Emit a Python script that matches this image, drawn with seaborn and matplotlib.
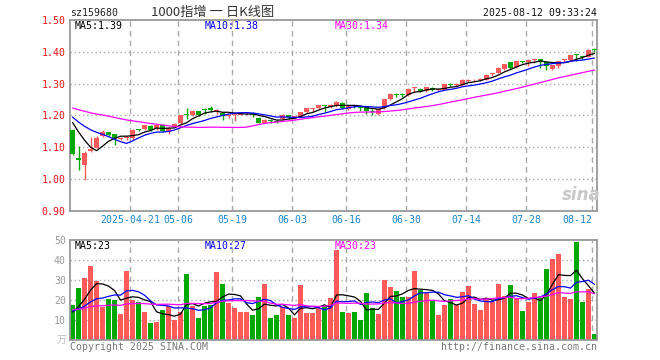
import numpy as np
import pandas as pd
import matplotlib
matplotlib.use('Agg')
import matplotlib.pyplot as plt
import seaborn as sns

# ---------------- data ----------------
opens = [1.154, 1.066, 1.043, 1.087, 1.099, 1.135, 1.147, 1.141, 1.127, 1.128,
         1.130, 1.156, 1.158, 1.168, 1.157, 1.170, 1.148, 1.168, 1.176, 1.205,
         1.202, 1.213, 1.220, 1.222, 1.213, 1.208, 1.198, 1.201, 1.203, 1.207,
         1.205, 1.193, 1.178, 1.184, 1.184, 1.188, 1.202, 1.193, 1.196, 1.211,
         1.221, 1.222, 1.232, 1.226, 1.229, 1.240, 1.220, 1.231, 1.226, 1.228,
         1.214, 1.205, 1.222, 1.253, 1.265, 1.265, 1.265, 1.286, 1.283, 1.276,
         1.287, 1.279, 1.281, 1.299, 1.296, 1.297, 1.309, 1.310, 1.312, 1.313,
         1.330, 1.335, 1.347, 1.367, 1.351, 1.370, 1.368, 1.373, 1.376, 1.369,
         1.345, 1.355, 1.375, 1.375, 1.393, 1.386, 1.385, 1.410]
highs = [1.156, 1.103, 1.087, 1.133, 1.137, 1.155, 1.148, 1.142, 1.133, 1.135,
         1.158, 1.158, 1.171, 1.171, 1.172, 1.172, 1.163, 1.176, 1.202, 1.223,
         1.218, 1.215, 1.222, 1.229, 1.219, 1.210, 1.205, 1.207, 1.212, 1.212,
         1.210, 1.195, 1.188, 1.188, 1.186, 1.204, 1.203, 1.199, 1.212, 1.224,
         1.224, 1.234, 1.234, 1.236, 1.244, 1.241, 1.234, 1.233, 1.231, 1.230,
         1.219, 1.221, 1.253, 1.272, 1.270, 1.270, 1.286, 1.289, 1.285, 1.289,
         1.289, 1.284, 1.299, 1.301, 1.301, 1.314, 1.314, 1.315, 1.317, 1.330,
         1.333, 1.352, 1.363, 1.368, 1.372, 1.372, 1.376, 1.376, 1.377, 1.370,
         1.360, 1.372, 1.378, 1.391, 1.394, 1.388, 1.409, 1.411]
lows = [1.077, 1.030, 0.996, 1.085, 1.097, 1.132, 1.135, 1.108, 1.122, 1.123,
        1.124, 1.150, 1.156, 1.151, 1.155, 1.148, 1.143, 1.165, 1.174, 1.190,
        1.199, 1.198, 1.205, 1.212, 1.204, 1.185, 1.192, 1.182, 1.200, 1.203,
        1.196, 1.175, 1.175, 1.176, 1.175, 1.185, 1.190, 1.188, 1.194, 1.208,
        1.212, 1.220, 1.211, 1.222, 1.226, 1.219, 1.217, 1.222, 1.214, 1.206,
        1.203, 1.200, 1.219, 1.250, 1.258, 1.257, 1.262, 1.273, 1.275, 1.274,
        1.277, 1.277, 1.279, 1.294, 1.292, 1.294, 1.306, 1.306, 1.308, 1.311,
        1.323, 1.332, 1.344, 1.346, 1.348, 1.364, 1.356, 1.364, 1.350, 1.343,
        1.342, 1.348, 1.367, 1.372, 1.371, 1.378, 1.383, 1.399]
closes = [1.079, 1.061, 1.083, 1.095, 1.130, 1.148, 1.139, 1.128, 1.130, 1.130,
          1.156, 1.155, 1.169, 1.153, 1.170, 1.150, 1.160, 1.172, 1.200, 1.203,
          1.215, 1.202, 1.218, 1.218, 1.215, 1.198, 1.201, 1.205, 1.210, 1.209,
          1.201, 1.178, 1.186, 1.182, 1.181, 1.202, 1.194, 1.197, 1.211, 1.222,
          1.223, 1.232, 1.229, 1.233, 1.242, 1.223, 1.232, 1.229, 1.224, 1.214,
          1.212, 1.219, 1.252, 1.269, 1.263, 1.263, 1.284, 1.288, 1.278, 1.288,
          1.280, 1.281, 1.298, 1.297, 1.298, 1.312, 1.311, 1.312, 1.314, 1.328,
          1.332, 1.350, 1.361, 1.350, 1.370, 1.368, 1.374, 1.375, 1.369, 1.355,
          1.358, 1.370, 1.377, 1.389, 1.390, 1.384, 1.406, 1.407]
volumes = [17.5, 26, 31, 37, 29.5, 16.7, 20.5, 20, 13, 34.5,
           20, 19, 14, 8.5, 9, 15, 17, 10, 14, 33,
           17, 11, 17, 17.5, 34, 28, 18.3, 16, 14, 14,
           12.3, 21.5, 28, 11, 12.3, 16.3, 12.3, 11, 27.5, 13.7,
           13.7, 16, 17, 21, 45, 14, 13.5, 14, 10, 23.5,
           16, 13, 30, 26.5, 24.5, 21.5, 21.5, 34.5, 25, 23.5,
           19.5, 12.5, 17.5, 20.5, 17.5, 24, 27, 18, 15, 20.5,
           19, 28, 22, 27.5, 20.5, 14.5, 19, 23.5, 21, 35.5,
           40.5, 43, 21.5, 20.5, 49, 19, 25.5, 3]
# sessions before the window, needed for the moving averages at the left edge
prior_closes = [1.225, 1.232, 1.240, 1.245, 1.238, 1.250, 1.255, 1.248, 1.242, 1.236,
                1.245, 1.250, 1.240, 1.232, 1.228, 1.235, 1.240, 1.232, 1.229, 1.220,
                1.218, 1.215, 1.205, 1.210, 1.212, 1.210, 1.212, 1.205, 1.185]
prior_volumes = [15, 16, 14, 17, 15, 13, 16, 18, 15, 14,
                 16, 17, 15, 14, 13, 16, 15, 17, 14, 16,
                 15, 17, 16, 14, 13, 12, 13, 14, 13]
holidays = ['2025-05-01', '2025-05-02', '2025-05-05', '2025-06-02']
tick_dates = ['2025-04-21', '2025-05-06', '2025-05-19', '2025-06-03', '2025-06-16',
              '2025-06-30', '2025-07-14', '2025-07-28', '2025-08-12']
tick_labels = ['2025-04-21', '05-06', '05-19', '06-03', '06-16',
               '06-30', '07-14', '07-28', '08-12']
price_ticks = [0.90, 1.00, 1.10, 1.20, 1.30, 1.40, 1.50]
vol_ticks = [10, 20, 30, 40, 50]

# ---------------- style ----------------
sns.set_theme(style='white')
plt.rcParams['font.family'] = ['DejaVu Sans Mono', 'Noto Sans CJK SC']

RED = '#ff5a5a'
GREEN = '#00a800'
GRID = '#aaaaaa'
FRAME = '#999999'
MONO = 7.1

dates = pd.bdate_range('2025-04-07', '2025-08-12', freq='C', holidays=holidays)
n = len(closes)
idx = np.arange(n)
df = pd.DataFrame({'pos': idx, 'open': opens, 'high': highs, 'low': lows,
                   'close': closes, 'vol': volumes}, index=dates[:n])
df['dir'] = np.where(df['close'] >= df['open'], 'up', 'down')
colors = np.where(df['dir'] == 'up', RED, GREEN)

np_ = len(prior_closes)
allc = pd.Series(prior_closes + closes)
allv = pd.Series(prior_volumes + volumes)
for w in (5, 10, 30):
    df[f'ma{w}'] = allc.rolling(w).mean().iloc[np_:].values
    df[f'vma{w}'] = allv.rolling(w).mean().iloc[np_:].values

tick_pos = [int(df.index.get_loc(pd.Timestamp(d))) for d in tick_dates]

W, H = 660, 360
fig = plt.figure(figsize=(6.6, 3.6), dpi=100)


def fx(x):
    return x / W


def fy(y):
    return 1 - y / H


# ---------------- price panel ----------------
ax = fig.add_axes([fx(70), fy(211), 527 / W, 191 / H])
xl = (-0.42, n - 1 + 0.42)

for y in price_ticks[1:-1]:
    ax.axhline(y, color=GRID, lw=1, ls=(0, (1, 2)), zorder=0)
for p in tick_pos:
    ax.axvline(p - 0.42, color=GRID, lw=1, ls=(0, (4, 3)), zorder=0)

body_lo = np.minimum(df['open'], df['close'])
body_h = np.maximum(np.abs(df['close'] - df['open']), 0.003)
ax.vlines(df['pos'], df['low'], df['high'], colors=colors, lw=1, zorder=2)
ax.bar(df['pos'], body_h, bottom=body_lo, width=0.8, color=colors, linewidth=0, zorder=3)

sns.lineplot(x=df['pos'], y=df['ma5'], ax=ax, color='black', lw=0.9, zorder=4)
sns.lineplot(x=df['pos'], y=df['ma10'], ax=ax, color='#0000ff', lw=0.9, zorder=4)
sns.lineplot(x=df['pos'], y=df['ma30'], ax=ax, color='#ff00ff', lw=0.9, zorder=4)

ax.set_xlim(*xl)
ax.set_ylim(0.90, 1.50)
ax.set_xlabel('')
ax.set_ylabel('')
ax.set_yticks(price_ticks)
ax.set_yticklabels([f'{v:.2f}' for v in price_ticks], color='#ee1111', fontsize=MONO)
ax.set_xticks([p - 0.42 for p in tick_pos])
ax.set_xticklabels(tick_labels, color='#1a86d0', fontsize=MONO)
ax.get_xticklabels()[-1].set_ha('right')
ax.tick_params(axis='both', length=0, pad=3)
for s in ax.spines.values():
    s.set_color(FRAME)
    s.set_linewidth(1.3)

# ---------------- volume panel ----------------
axv = fig.add_axes([fx(70), fy(340), 527 / W, 100 / H])
for y in vol_ticks[:-1]:
    axv.axhline(y, color=GRID, lw=1, ls=(0, (1, 2)), zorder=0)
for p in tick_pos:
    axv.axvline(p - 0.42, color=GRID, lw=1, ls=(0, (4, 3)), zorder=0)

sns.barplot(data=df, x='pos', y='vol', hue='dir', palette={'up': RED, 'down': GREEN},
            native_scale=True, dodge=False, width=0.83, legend=False, errorbar=None,
            saturation=1, linewidth=0, ax=axv, zorder=2)
sns.lineplot(x=df['pos'], y=df['vma5'], ax=axv, color='black', lw=0.9, zorder=4)
sns.lineplot(x=df['pos'], y=df['vma10'], ax=axv, color='#0000ff', lw=0.9, zorder=4)
sns.lineplot(x=df['pos'], y=df['vma30'], ax=axv, color='#ff00ff', lw=0.9, zorder=4)

axv.set_xlim(*xl)
axv.set_ylim(0, 50)
axv.set_xlabel('')
axv.set_ylabel('')
axv.set_xticks([])
axv.set_yticks(vol_ticks)
axv.set_yticklabels([str(v) for v in vol_ticks], color='#999999', fontsize=MONO)
axv.tick_params(axis='both', length=0, pad=3)
for s in axv.spines.values():
    s.set_color(FRAME)
    s.set_linewidth(1.3)

# ---------------- texts ----------------
fig.text(fx(70), fy(13), 'sz159680', ha='left', va='center', fontsize=MONO, color='#222222')
fig.text(fx(213), fy(12), '1000指增 一 日K线图', ha='center', va='center', fontsize=9.5,
         color='#333333', family=['Noto Sans CJK SC', 'DejaVu Sans'])
fig.text(fx(597), fy(13), '2025-08-12 09:33:24', ha='right', va='center', fontsize=MONO,
         color='#111111')

fig.text(fx(75), fy(26), 'MA5:1.39', ha='left', va='center', fontsize=MONO, color='black')
fig.text(fx(205), fy(26), 'MA10:1.38', ha='left', va='center', fontsize=MONO, color='#0000ff')
fig.text(fx(335), fy(26), 'MA30:1.34', ha='left', va='center', fontsize=MONO, color='#ff00ff')

fig.text(fx(75), fy(246), 'MA5:23', ha='left', va='center', fontsize=MONO, color='black')
fig.text(fx(205), fy(246), 'MA10:27', ha='left', va='center', fontsize=MONO, color='#0000ff')
fig.text(fx(335), fy(246), 'MA30:23', ha='left', va='center', fontsize=MONO, color='#ff00ff')

fig.text(fx(66), fy(340), '万', ha='right', va='center', fontsize=7, color='#bbbbbb',
         family=['Noto Sans CJK SC', 'DejaVu Sans'])
fig.text(fx(70), fy(347), 'Copyright 2025 SINA.COM', ha='left', va='center', fontsize=MONO,
         color='#777777')
fig.text(fx(597), fy(347), 'http://finance.sina.com.cn', ha='right', va='center',
         fontsize=MONO, color='#777777')
fig.text(fx(581), fy(195), 'sina', ha='center', va='center', fontsize=12, weight='bold',
         style='italic', color='#c8c8c8', family=['DejaVu Sans'])

fig.savefig('out.png', dpi=100)
